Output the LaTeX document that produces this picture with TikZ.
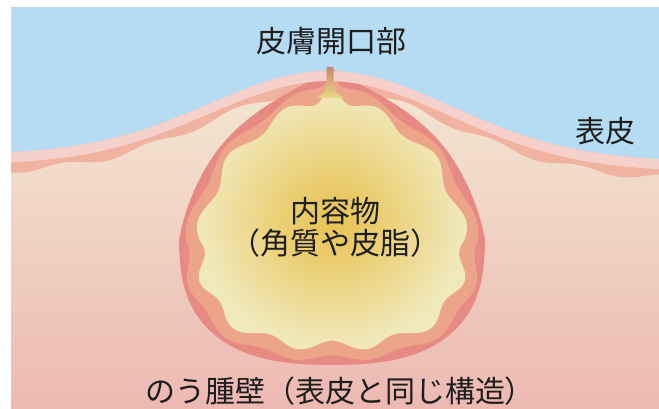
\documentclass[tikz,border=0pt]{standalone}
\usepackage{fontspec}
\newfontfamily\jpfont{Noto Sans CJK JP}

\definecolor{sky}{HTML}{B5DCF2}
\definecolor{epipink}{HTML}{F6D0CA}
\definecolor{episalmon}{HTML}{F0B3A0}
\definecolor{dermtop}{HTML}{F3E8D3}
\definecolor{dermbot}{HTML}{EDB9B2}
\definecolor{wallred}{HTML}{E68A83}
\definecolor{wallsalmon}{HTML}{EDA58A}
\definecolor{coregold}{HTML}{E8C355}
\definecolor{corepale}{HTML}{F1EEC9}
\definecolor{neckbrown}{HTML}{C4896C}
\definecolor{inktext}{HTML}{1E1E1E}

% keratin core: golden centre fading to a pale cream rim
\pgfdeclareradialshading{cystcore}{\pgfpoint{0bp}{0bp}}{%
  color(0bp)=(coregold);
  color(8bp)=(coregold!78!corepale);
  color(24bp)=(corepale!86!coregold);
  color(35bp)=(corepale);
  color(50bp)=(corepale)}

\begin{document}
\begin{tikzpicture}[x=1pt,y=-1pt,
  declare function={
    surf(\x)=155+0.01*(\x-11)-87*exp(-((\x-330)/172)*((\x-330)/172));
    up(\t)=(sin(\t)>0)*sin(\t);
    sixth(\t)=up(\t)*up(\t)*up(\t)*up(\t)*up(\t)*up(\t);
    bulge(\t)=0.08*(sin(\t)<0)*sin(2*\t)*sin(2*\t);
    % egg-shaped cyst outline around (332,240), tapering (\pa,\pb) towards the pore
    eggx(\t,\pa,\pb)=153*cos(\t)*(1-\pa*up(\t)-\pb*sixth(\t)+bulge(\t));
    eggy(\t)=-((sin(\t)>0)*170+(sin(\t)<=0)*125)*sin(\t)*(1+bulge(\t));
    % inset copy of the outline with a radial ripple of amplitude \am
    wavex(\t,\sx,\pa,\pb,\am)=332+\sx*eggx(\t,\pa,\pb)+\am*sin(13*\t)*cos(\t);
    wavey(\t,\sy,\am)=240+\sy*eggy(\t)-\am*sin(13*\t)*sin(\t);
  },
  lbl/.style={font=\jpfont\fontsize{30}{34}\selectfont, text=inktext, inner sep=0pt}]

\useasboundingbox (0,0) rectangle (659,409);
\fill[white] (0,0) rectangle (659,409);

% air above the skin
\fill[sky] (11,7) rectangle (659,409);

% dermis
\shade[top color=dermtop, bottom color=dermbot]
  (11,409) -- plot[domain=11:659, samples=160] (\x,{surf(\x)}) -- (659,409) -- cycle;

% lower epidermal layer with wavy base
\fill[episalmon]
  plot[domain=11:659, samples=200] (\x,{surf(\x)})
  -- plot[domain=659:11, samples=200] (\x,{surf(\x)+18+3*sin(4.2*\x)}) -- cycle;

% cyst wall: outer rim, epithelial lining, keratin core
\fill[wallred] plot[domain=0:360, samples=300]
  ({wavex(\x,1,0.2,0.6,0)},{wavey(\x,1,0)}) -- cycle;
\fill[wallsalmon] plot[domain=0:360, samples=400]
  ({wavex(\x,0.955,0.2,0.6,3)},{wavey(\x,0.947,3)}) -- cycle;
\shade[shading=cystcore] plot[domain=0:360, samples=400]
  ({wavex(\x,0.865,0.12,0.35,5)},{wavey(\x,0.845,5)}) -- cycle;

% surface layer of the skin
\fill[epipink]
  plot[domain=11:659, samples=200] (\x,{surf(\x)})
  -- plot[domain=659:11, samples=200] (\x,{surf(\x)+10}) -- cycle;

% pore opening
\shade[top color=neckbrown, bottom color=coregold!55!corepale]
  (326.5,67) -- (326.5,82) .. controls (326.5,91) and (322,95) .. (316,98)
  -- (344,98) .. controls (338,95) and (333.5,91) .. (333.5,82) -- (333.5,67) -- cycle;

% labels
\node[lbl] (opening) at (331,41) {皮膚開口部};
\node[lbl] (epidermis) at (605,131) {表皮};
\node[lbl] (contents) at (335,211) {内容物};
\node[lbl] (contentsnote) at (335,243) {（角質や皮脂）};
\node[lbl] (wall) at (340,391) {のう腫壁（表皮と同じ構造）};
\end{tikzpicture}
\end{document}
